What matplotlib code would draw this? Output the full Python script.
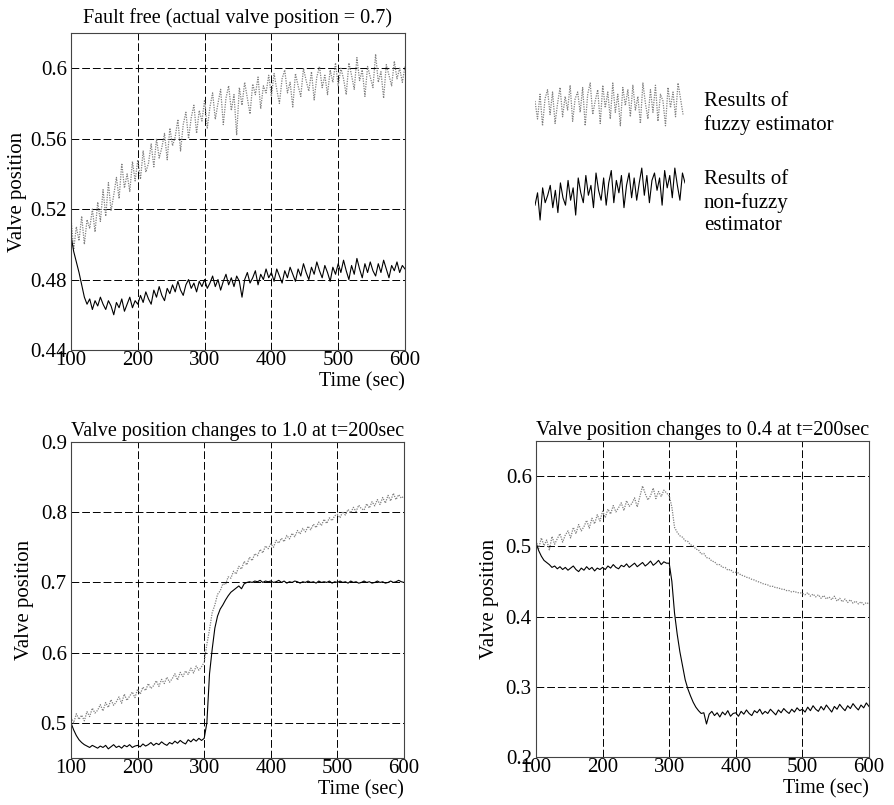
import numpy as np
import matplotlib
matplotlib.use("Agg")
import matplotlib.pyplot as plt

plt.rcParams['font.family'] = ['Liberation Serif', 'DejaVu Serif']

# time axis (seconds), sampled every 4 s
time_s = np.arange(100, 601, 4)

# ---------------- Fault free ----------------
ff_fuzzy = [
    0.515, 0.497, 0.510, 0.502, 0.516, 0.500, 0.514, 0.509, 0.520, 0.507, 0.524, 0.513, 0.531, 0.516, 0.535, 0.519, 0.528, 0.538, 0.526, 0.546, 0.532, 0.540, 0.530, 0.547, 0.536,
    0.548, 0.537, 0.553, 0.541, 0.546, 0.557, 0.544, 0.560, 0.549, 0.555, 0.563, 0.548, 0.566, 0.556, 0.561, 0.571, 0.553, 0.568, 0.575, 0.560, 0.572, 0.579, 0.563, 0.576, 0.570,
    0.582, 0.566, 0.578, 0.586, 0.571, 0.580, 0.588, 0.568, 0.583, 0.590, 0.576, 0.585, 0.562, 0.589, 0.579, 0.592, 0.583, 0.574, 0.591, 0.585, 0.595, 0.577, 0.590, 0.586, 0.596,
    0.584, 0.597, 0.588, 0.580, 0.594, 0.599, 0.586, 0.592, 0.578, 0.597, 0.590, 0.584, 0.600, 0.593, 0.587, 0.598, 0.582, 0.595, 0.601, 0.589, 0.596, 0.585, 0.599, 0.592, 0.603,
    0.590, 0.600, 0.594, 0.585, 0.603, 0.596, 0.588, 0.606, 0.593, 0.599, 0.584, 0.601, 0.595, 0.589, 0.608, 0.592, 0.598, 0.583, 0.602, 0.596, 0.590, 0.604, 0.594, 0.600, 0.592, 0.601,
]
ff_nonfuzzy = [
    0.505, 0.496, 0.490, 0.484, 0.477, 0.470, 0.466, 0.469, 0.463, 0.468, 0.465, 0.470, 0.466, 0.463, 0.468, 0.465, 0.460, 0.467, 0.464, 0.469, 0.462, 0.466, 0.470, 0.464, 0.468,
    0.466, 0.471, 0.467, 0.473, 0.469, 0.466, 0.474, 0.470, 0.476, 0.471, 0.468, 0.475, 0.472, 0.477, 0.473, 0.479, 0.474, 0.471, 0.477, 0.480, 0.475, 0.478, 0.473, 0.479, 0.476,
    0.480, 0.475, 0.478, 0.482, 0.476, 0.480, 0.474, 0.479, 0.483, 0.477, 0.481, 0.476, 0.482, 0.479, 0.470, 0.480, 0.484, 0.478, 0.481, 0.485, 0.477, 0.483, 0.480, 0.486, 0.481,
    0.484, 0.479, 0.486, 0.482, 0.478, 0.485, 0.481, 0.487, 0.483, 0.479, 0.486, 0.482, 0.489, 0.484, 0.480, 0.487, 0.483, 0.490, 0.485, 0.481, 0.488, 0.484, 0.479, 0.487, 0.483,
    0.489, 0.484, 0.491, 0.485, 0.480, 0.488, 0.483, 0.492, 0.486, 0.481, 0.489, 0.484, 0.490, 0.485, 0.482, 0.489, 0.484, 0.491, 0.486, 0.481, 0.488, 0.485, 0.490, 0.484, 0.488, 0.486,
]

# ---------------- Change to 1.0 ----------------
up_fuzzy = [
    0.508, 0.500, 0.513, 0.505, 0.511, 0.503, 0.516, 0.509, 0.521, 0.514, 0.518, 0.526, 0.517, 0.529, 0.522, 0.533, 0.525, 0.530, 0.537, 0.528, 0.541, 0.532, 0.538, 0.544, 0.536,
    0.548, 0.541, 0.551, 0.546, 0.556, 0.549, 0.553, 0.560, 0.552, 0.562, 0.556, 0.565, 0.558, 0.563, 0.570, 0.561, 0.572, 0.566, 0.574, 0.569, 0.578, 0.571, 0.581, 0.575, 0.580,
    0.586, 0.612, 0.633, 0.657, 0.668, 0.683, 0.688, 0.698, 0.697, 0.708, 0.706, 0.716, 0.712, 0.723, 0.719, 0.730, 0.725, 0.736, 0.731, 0.741, 0.738, 0.747, 0.742, 0.752, 0.748,
    0.755, 0.750, 0.760, 0.756, 0.763, 0.758, 0.767, 0.762, 0.770, 0.765, 0.774, 0.769, 0.777, 0.772, 0.780, 0.775, 0.783, 0.778, 0.786, 0.781, 0.790, 0.784, 0.792, 0.788, 0.795,
    0.797, 0.792, 0.801, 0.796, 0.804, 0.799, 0.807, 0.801, 0.810, 0.805, 0.803, 0.812, 0.806, 0.815, 0.809, 0.818, 0.811, 0.821, 0.813, 0.824, 0.816, 0.827, 0.818, 0.825, 0.820, 0.823,
]
up_nonfuzzy = [
    0.500, 0.490, 0.482, 0.476, 0.472, 0.469, 0.467, 0.465, 0.468, 0.466, 0.464, 0.467, 0.465, 0.468, 0.463, 0.466, 0.469, 0.465, 0.467, 0.464, 0.468, 0.466, 0.469, 0.465, 0.467,
    0.468, 0.466, 0.470, 0.467, 0.469, 0.472, 0.468, 0.471, 0.469, 0.473, 0.470, 0.468, 0.472, 0.470, 0.474, 0.471, 0.475, 0.472, 0.470, 0.476, 0.473, 0.477, 0.474, 0.478, 0.475,
    0.478, 0.500, 0.570, 0.605, 0.635, 0.652, 0.662, 0.668, 0.675, 0.681, 0.686, 0.689, 0.692, 0.695, 0.691, 0.698, 0.700, 0.701, 0.700, 0.702, 0.701, 0.703, 0.700, 0.702, 0.701,
    0.702, 0.700, 0.701, 0.703, 0.700, 0.702, 0.699, 0.701, 0.700, 0.702, 0.701, 0.699, 0.701, 0.700, 0.702, 0.700, 0.701, 0.699, 0.702, 0.700, 0.701, 0.700, 0.702, 0.699, 0.701,
    0.700, 0.702, 0.700, 0.701, 0.699, 0.702, 0.700, 0.701, 0.699, 0.700, 0.702, 0.700, 0.701, 0.699, 0.700, 0.702, 0.700, 0.701, 0.699, 0.700, 0.702, 0.700, 0.701, 0.703, 0.701, 0.700,
]

# ---------------- Change to 0.4 ----------------
down_fuzzy = [
    0.508, 0.497, 0.512, 0.501, 0.509, 0.495, 0.514, 0.503, 0.511, 0.518, 0.506, 0.516, 0.522, 0.512, 0.527, 0.518, 0.531, 0.522, 0.528, 0.537, 0.526, 0.540, 0.532, 0.545, 0.536,
    0.550, 0.541, 0.553, 0.546, 0.558, 0.549, 0.555, 0.562, 0.551, 0.565, 0.557, 0.561, 0.569, 0.556, 0.571, 0.586, 0.575, 0.566, 0.572, 0.583, 0.568, 0.578, 0.571, 0.580, 0.576,
    0.572, 0.556, 0.527, 0.520, 0.515, 0.513, 0.508, 0.507, 0.502, 0.501, 0.496, 0.495, 0.489, 0.490, 0.484, 0.483, 0.479, 0.478, 0.474, 0.474, 0.470, 0.470, 0.466, 0.467, 0.463,
    0.463, 0.462, 0.459, 0.458, 0.456, 0.455, 0.453, 0.452, 0.450, 0.449, 0.447, 0.446, 0.445, 0.443, 0.443, 0.441, 0.441, 0.439, 0.439, 0.437, 0.437, 0.435, 0.436, 0.434, 0.434,
    0.433, 0.431, 0.434, 0.429, 0.432, 0.428, 0.431, 0.426, 0.430, 0.425, 0.428, 0.424, 0.429, 0.422, 0.426, 0.421, 0.425, 0.420, 0.424, 0.419, 0.422, 0.418, 0.421, 0.417, 0.420, 0.418,
]
down_nonfuzzy = [
    0.505, 0.494, 0.486, 0.480, 0.477, 0.474, 0.470, 0.472, 0.468, 0.471, 0.467, 0.470, 0.466, 0.469, 0.472, 0.467, 0.464, 0.469, 0.466, 0.471, 0.467, 0.470, 0.465, 0.469, 0.467,
    0.470, 0.467, 0.472, 0.469, 0.474, 0.470, 0.468, 0.473, 0.471, 0.475, 0.470, 0.473, 0.476, 0.471, 0.474, 0.477, 0.472, 0.475, 0.479, 0.473, 0.476, 0.480, 0.474, 0.478, 0.476,
    0.476, 0.450, 0.405, 0.375, 0.350, 0.330, 0.310, 0.297, 0.287, 0.278, 0.271, 0.266, 0.262, 0.263, 0.247, 0.261, 0.265, 0.259, 0.263, 0.257, 0.264, 0.260, 0.266, 0.258, 0.262,
    0.263, 0.258, 0.265, 0.261, 0.267, 0.262, 0.259, 0.266, 0.263, 0.268, 0.261, 0.265, 0.262, 0.268, 0.264, 0.260, 0.267, 0.263, 0.269, 0.265, 0.262, 0.268, 0.264, 0.270, 0.266,
    0.268, 0.264, 0.271, 0.266, 0.273, 0.268, 0.265, 0.272, 0.267, 0.274, 0.269, 0.264, 0.272, 0.268, 0.275, 0.270, 0.266, 0.273, 0.269, 0.276, 0.271, 0.267, 0.274, 0.270, 0.277, 0.272,
]

# legend sample traces (arbitrary units)
legend_fuzzy = [0.2, -0.6, 0.5, -0.9, 0.3, 0.7, -0.4, 0.6, -0.8, 0.1, 0.8, -0.5, 0.4, -0.2, 0.9, -0.7, 0.3, 0.6, -0.3, 0.8,
                -0.9, 0.5, 1.0, -0.4, 0.2, 0.7, -0.8, 0.9, -0.1, 0.6, -0.6, 1.0, -0.3, 0.5, -0.9, 0.8, 0.0, 0.7, -0.5, 0.9,
                -0.2, 0.4, -0.8, 1.0, 0.1, -0.6, 0.7, -0.3, 0.9, -0.7, 0.5, 0.2, -0.9, 0.8, -0.1, 0.6, -0.5, 1.0, 0.3, -0.4]
legend_nonfuzzy = [-0.3, 0.2, -0.9, 0.4, -0.2, 0.1, 0.5, -0.4, 0.3, -0.6, 0.6, 0.0, -0.3, 0.7, -0.1, 0.4, -0.7, 0.8, 0.2, -0.2,
                   0.9, 0.1, 0.5, -0.4, 1.0, 0.3, -0.1, 0.8, -0.3, 0.6, 1.1, -0.2, 0.7, 0.2, 0.9, -0.4, 0.5, 1.0, 0.0, 0.8,
                   -0.1, 0.6, 1.2, 0.1, 0.9, -0.2, 0.7, 1.0, 0.3, 0.8, -0.3, 1.1, 0.4, 0.9, 0.0, 1.2, 0.5, -0.1, 1.0, 0.6]

titles = ["Fault free (actual valve position = 0.7)",
          "Valve position changes to 1.0 at t=200sec",
          "Valve position changes to 0.4 at t=200sec"]
xticks = [100, 200, 300, 400, 500, 600]
yticks_ff = [0.44, 0.48, 0.52, 0.56, 0.6]
yticklabels_ff = ["0.44", "0.48", "0.52", "0.56", "0.6"]
yticks_up = [0.5, 0.6, 0.7, 0.8, 0.9]
yticks_down = [0.2, 0.3, 0.4, 0.5, 0.6]

FUZZY_C = "#808080"
W, H = 894, 805
fig = plt.figure(figsize=(W / 100, H / 100), dpi=100)


def px_axes(left, top, right, bottom):
    return fig.add_axes([left / W, 1 - bottom / H, (right - left) / W, (bottom - top) / H])


def style(ax, title, yticks, ylim, yticklabels=None, title_pad=4, ylabelpad=6):
    ax.set_xlim(100, 600)
    ax.set_ylim(*ylim)
    ax.set_xticks(xticks)
    ax.set_yticks(yticks)
    if yticklabels is not None:
        ax.set_yticklabels(yticklabels)
    ax.tick_params(labelsize=15, length=0)
    ax.tick_params(axis="x", pad=1)
    ax.tick_params(axis="y", pad=3)
    ax.grid(True, color="black", linestyle=(0, (8, 3)), linewidth=0.7)
    for s in ax.spines.values():
        s.set_linewidth(0.8)
        s.set_color("#444444")
    ax.set_title(title, fontsize=14.5, pad=title_pad)
    ax.set_ylabel("Valve position", fontsize=15, labelpad=ylabelpad)
    ax.set_xlabel("Time (sec)", fontsize=14.5, loc="right", labelpad=1)


def draw(ax, fz, nf):
    ax.plot(time_s, fz, color=FUZZY_C, linestyle=(0, (1, 1)), linewidth=0.9)
    ax.plot(time_s, nf, color="black", linewidth=0.8)


ax1 = px_axes(71, 33, 405, 350)
draw(ax1, ff_fuzzy, ff_nonfuzzy)
style(ax1, titles[0], yticks_ff, (0.44, 0.62), yticklabels_ff, title_pad=7, ylabelpad=2)

ax2 = px_axes(71, 442, 404, 758)
draw(ax2, up_fuzzy, up_nonfuzzy)
style(ax2, titles[1], yticks_up, (0.45, 0.9), title_pad=4, ylabelpad=5)

ax3 = px_axes(536, 441, 869, 757)
draw(ax3, down_fuzzy, down_nonfuzzy)
style(ax3, titles[2], yticks_down, (0.2, 0.65), title_pad=4, ylabelpad=5)

# legend block drawn as its own frameless axes
axl = px_axes(535, 80, 685, 230)
axl.set_xlim(0, 1)
axl.set_ylim(0, 1)
axl.axis("off")
xf = np.linspace(0, 0.987, len(legend_fuzzy))
xn = np.linspace(0, 1.0, len(legend_nonfuzzy))
axl.plot(xf, 0.83 + 0.15 * np.array(legend_fuzzy), color=FUZZY_C, linestyle=(0, (1, 1)), linewidth=0.9)
axl.plot(xn, 0.215 + 0.165 * np.array(legend_nonfuzzy), color="black", linewidth=0.8)

fig.text(704 / W, 1 - 92 / H, "Results of\nfuzzy estimator", fontsize=15, va="top", ha="left", linespacing=1.25)
fig.text(704 / W, 1 - 170 / H, "Results of\nnon-fuzzy\nestimator", fontsize=15, va="top", ha="left", linespacing=1.25)

fig.savefig("out.png", dpi=100)
